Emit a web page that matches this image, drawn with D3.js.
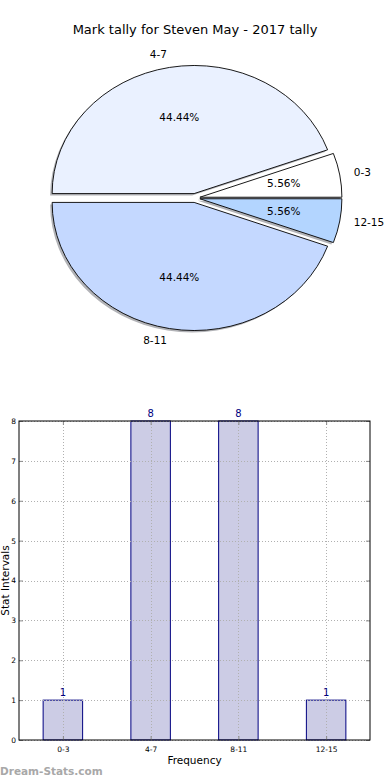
<!DOCTYPE html>
<html><head><meta charset="utf-8">
<script src="https://cdn.jsdelivr.net/npm/d3@7"></script>
<style>
html,body{margin:0;padding:0;background:#fff;}
svg{display:block;font-family:"DejaVu Sans",sans-serif;}
</style></head>
<body>
<svg id="c" width="390" height="780"></svg>
<script>
const title = "Mark tally for Steven May - 2017 tally";
const categories = ["0-3", "4-7", "8-11", "12-15"];
const counts = [1, 8, 8, 1];
const pieColors = ["#ffffff", "#eaf1ff", "#c4d8ff", "#b3d5ff"];
const yTicks = [0, 1, 2, 3, 4, 5, 6, 7, 8];
const xLabel = "Frequency";
const yLabel = "Stat Intervals";
const watermark = "Dream-Stats.com";

const svg = d3.select("#c");

// Title
svg.append("text").attr("x", 195).attr("y", 30).attr("text-anchor", "middle")
  .attr("dominant-baseline", "middle").attr("font-size", 13).attr("fill", "#000").text(title);

// ---------- PIE ----------
const cx = 195, cy = 198, rx = 142, ry = 128, explode = 0.035;
const total = d3.sum(counts);
const pie = d3.pie().sort(null).startAngle(Math.PI / 2).endAngle(Math.PI / 2 - 2 * Math.PI);
const arcs = pie(counts);
const arcGen = d3.arc().innerRadius(0).outerRadius(1);
const pieG = svg.append("g").attr("transform", `translate(${cx},${cy}) scale(${rx},${ry})`);

arcs.forEach((a, i) => {
  const mid = (a.startAngle + a.endAngle) / 2;
  const ox = explode * Math.sin(mid), oy = -explode * Math.cos(mid);
  // shadow
  pieG.append("path").attr("d", arcGen(a))
    .attr("transform", `translate(${ox - 2 / rx},${oy + 2 / ry})`)
    .attr("fill", "#7f8187").attr("fill-opacity", 0.6).attr("stroke", "none");
  pieG.append("path").attr("d", arcGen(a))
    .attr("transform", `translate(${ox},${oy})`)
    .attr("fill", pieColors[i]).attr("stroke", "#000").attr("stroke-width", 0.9)
    .attr("vector-effect", "non-scaling-stroke").attr("stroke-linejoin", "round");
});
arcs.forEach((a, i) => {
  const mid = (a.startAngle + a.endAngle) / 2;
  const ux = Math.sin(mid), uy = -Math.cos(mid);
  const bx = cx + explode * rx * ux, by = cy + explode * ry * uy;
  svg.append("text").attr("x", bx + 0.6 * rx * ux).attr("y", by + 0.6 * ry * uy)
    .attr("text-anchor", "middle").attr("dominant-baseline", "middle")
    .attr("font-size", 10.5).text((100 * a.data / total).toFixed(2) + "%");
  svg.append("text").attr("x", bx + 1.1 * rx * ux).attr("y", by + 1.1 * ry * uy)
    .attr("text-anchor", ux >= 0 ? "start" : "end").attr("dominant-baseline", "middle")
    .attr("font-size", 10.5).text(categories[i]);
});

// ---------- BAR ----------
const L = 19, R = 370, T = 421, B = 740;
const x = d3.scaleLinear().domain([-0.5, categories.length - 0.5]).range([L, R]);
const y = d3.scaleLinear().domain([0, 8]).range([B, T]);
const bw = 0.45;
const barG = svg.append("g");

barG.selectAll("rect.bar").data(counts).join("rect").attr("class", "bar")
  .attr("x", (d, i) => x(i - bw / 2)).attr("width", (d, i) => x(i + bw / 2) - x(i - bw / 2))
  .attr("y", d => y(d)).attr("height", d => y(0) - y(d))
  .attr("fill", "#ccccE5").attr("stroke", "#000080").attr("stroke-width", 1);

// grid
const gridStyle = g => g.attr("stroke", "#b0b0b0").attr("stroke-width", 1).attr("stroke-dasharray", "1,2");
barG.append("g").selectAll("line").data(yTicks).join("line")
  .attr("x1", L).attr("x2", R).attr("y1", d => Math.round(y(d)) + 0.5).attr("y2", d => Math.round(y(d)) + 0.5)
  .call(gridStyle);
barG.append("g").selectAll("line").data(categories.map((c, i) => i)).join("line")
  .attr("y1", T).attr("y2", B).attr("x1", d => Math.round(x(d)) + 0.5).attr("x2", d => Math.round(x(d)) + 0.5)
  .call(gridStyle);

// axes with inward ticks
const axL = d3.axisLeft(y).tickValues(yTicks).tickSizeInner(-4).tickSizeOuter(0).tickPadding(3).tickFormat(d3.format("d"));
const gL = barG.append("g").attr("transform", `translate(${L},0)`).call(axL);
const axR = d3.axisRight(y).tickValues(yTicks).tickSizeInner(-4).tickSizeOuter(0).tickFormat("");
const gR = barG.append("g").attr("transform", `translate(${R},0)`).call(axR);
const axB = d3.axisBottom(x).tickValues(categories.map((c, i) => i)).tickSizeInner(-4).tickSizeOuter(0).tickPadding(7)
  .tickFormat(i => categories[i]);
const gB = barG.append("g").attr("transform", `translate(0,${B})`).call(axB);
const axT = d3.axisTop(x).tickValues(categories.map((c, i) => i)).tickSizeInner(-4).tickSizeOuter(0).tickFormat("");
const gT = barG.append("g").attr("transform", `translate(0,${T})`).call(axT);
[gL, gR, gB, gT].forEach(g => {
  g.select(".domain").remove();
  g.selectAll(".tick line").attr("stroke", "#888");
  g.selectAll("text").attr("font-size", 7.5).attr("fill", "#000").attr("font-family", "DejaVu Sans");
});
barG.append("rect").attr("x", L).attr("y", T).attr("width", R - L).attr("height", B - T)
  .attr("fill", "none").attr("stroke", "#000").attr("stroke-width", 1);

// value labels
barG.selectAll("text.val").data(counts).join("text").attr("class", "val")
  .attr("x", (d, i) => x(i)).attr("y", d => y(d) - 4).attr("text-anchor", "middle")
  .attr("font-size", 10).attr("fill", "#000080").text(d => d);

// axis labels
svg.append("text").attr("x", (L + R) / 2).attr("y", 764).attr("text-anchor", "middle")
  .attr("font-size", 10.5).text(xLabel);
svg.append("text").attr("transform", `translate(9,${(T + B) / 2}) rotate(-90)`).attr("text-anchor", "middle")
  .attr("font-size", 10.5).text(yLabel);

// watermark
svg.append("text").attr("x", 0).attr("y", 775).attr("font-size", 10.5).attr("font-weight", "bold")
  .attr("fill", "#a8a8a8").text(watermark);
</script>
</body></html>
